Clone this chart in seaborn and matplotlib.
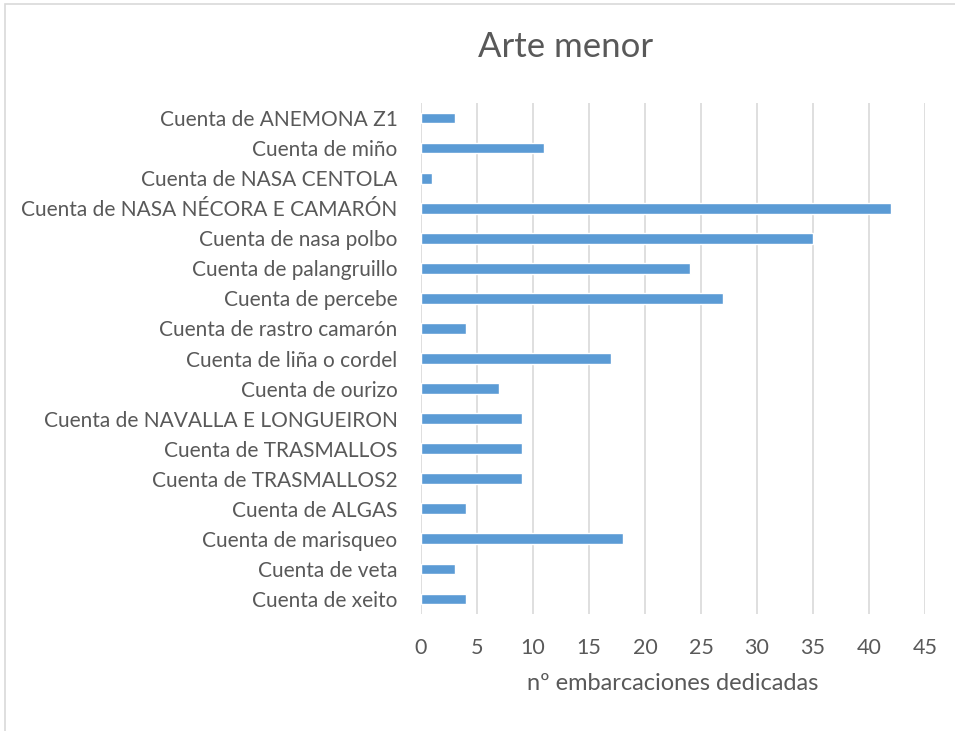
import pandas as pd
import matplotlib.pyplot as plt
import seaborn as sns
from matplotlib.patches import Rectangle

# Categories, top to bottom as in the chart
categorias = ["Cuenta de ANEMONA Z1", "Cuenta de miño", "Cuenta de NASA CENTOLA",
              "Cuenta de NASA NÉCORA E CAMARÓN", "Cuenta de nasa polbo", "Cuenta de palangruillo",
              "Cuenta de percebe", "Cuenta de rastro camarón", "Cuenta de liña o cordel",
              "Cuenta de ourizo", "Cuenta de NAVALLA E LONGUEIRON", "Cuenta de TRASMALLOS",
              "Cuenta de TRASMALLOS2", "Cuenta de ALGAS", "Cuenta de marisqueo",
              "Cuenta de veta", "Cuenta de xeito"]
embarcaciones = [3, 11, 1, 42, 35, 24, 27, 4, 17, 7, 9, 9, 9, 4, 18, 3, 4]
ticks_x = [0, 5, 10, 15, 20, 25, 30, 35, 40, 45]

df = pd.DataFrame({"arte": categorias, "n": embarcaciones})

sns.set_style("white")
plt.rcParams["font.family"] = ["Lato", "DejaVu Sans"]
gris = "#595959"

fig = plt.figure(figsize=(9.55, 7.31), dpi=100)
ax = fig.add_axes([421/955, 1 - 614/731, (925 - 421)/955, (614 - 103)/731])

sns.barplot(data=df, x="n", y="arte", orient="h", color="#5B9BD5", width=0.36,
            saturation=1, ax=ax)

ax.set_xlim(0, 45)
ax.set_xticks(ticks_x)
ax.grid(axis="x", color="#D9D9D9", linewidth=1.2)
ax.set_axisbelow(True)
for s in ax.spines.values():
    s.set_visible(False)
ax.tick_params(axis="y", length=0, pad=17, labelsize=15, labelcolor=gris)
ax.tick_params(axis="x", length=0, pad=17, labelsize=15.5, labelcolor=gris)
ax.set_ylabel("")
ax.set_xlabel("nº embarcaciones dedicadas", fontsize=17, color=gris, labelpad=11)

fig.text(566/955, 1 - 47/731, "Arte menor", fontsize=25, color=gris, ha="center", va="center")

# chart frame (left and top edges visible)
fig.patches.append(Rectangle((5/955, -0.1), 1.2, 1 - 4/731 + 0.1, transform=fig.transFigure,
                             fill=False, edgecolor="#D9D9D9", linewidth=1.2))

fig.savefig("out.png", dpi=100)
